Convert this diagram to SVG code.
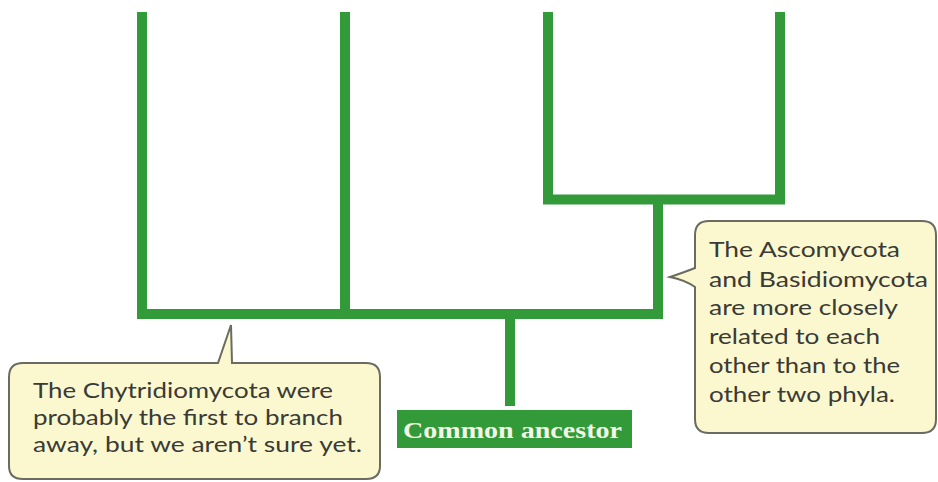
<svg xmlns="http://www.w3.org/2000/svg" width="938" height="482" viewBox="0 0 938 482">
<style>
.br{stroke:#339a3a;stroke-width:10;fill:none;stroke-linecap:butt}
.call{fill:#fbf8cf;stroke:#6b6b62;stroke-width:2}
.ct{font-family:Lato,"Open Sans","Liberation Sans",sans-serif;font-size:22px;fill:#3a3a36}
.ca{font-family:"Liberation Serif",serif;font-weight:bold;font-size:24px;fill:#f2f6e4}
</style>
<rect width="938" height="482" fill="#ffffff"/>
<g id="connectors">
<path class="br" d="M142 12 V314 M345 12 V314 M137 314 H663 M548 12 V199.5 M780 12 V199.5 M543 199.5 H785 M658 199.5 V314 M510 314 V406"/>
</g>
<g id="common-ancestor">
<rect x="397" y="410" width="235" height="38" fill="#339a3a"/>
<text class="ca" x="403" y="438" textLength="219" lengthAdjust="spacingAndGlyphs">Common ancestor</text>
</g>
<g id="callout-chytrid">
<path class="call" d="M23 363 H218 L231 325 L232 363 H366 Q380 363 380 377 V466 Q380 479 366 479 H23 Q9 479 9 466 V377 Q9 363 23 363 Z"/>
<text class="ct" x="33" y="398" textLength="300" lengthAdjust="spacingAndGlyphs">The Chytridiomycota were</text>
<text class="ct" x="33" y="425" textLength="310" lengthAdjust="spacingAndGlyphs">probably the first to branch</text>
<text class="ct" x="33" y="452" textLength="329" lengthAdjust="spacingAndGlyphs">away, but we aren’t sure yet.</text>
</g>
<g id="callout-asco">
<path class="call" d="M709 221 H922 Q936 221 936 235 V419 Q936 433 922 433 H709 Q695 433 695 419 V287 Q685 280 670 277 Q685 272 695 268 V235 Q695 221 709 221 Z"/>
<text class="ct" x="709" y="257" textLength="191" lengthAdjust="spacingAndGlyphs">The Ascomycota</text>
<text class="ct" x="709" y="287" textLength="219" lengthAdjust="spacingAndGlyphs">and Basidiomycota</text>
<text class="ct" x="709" y="315" textLength="189" lengthAdjust="spacingAndGlyphs">are more closely</text>
<text class="ct" x="709" y="344" textLength="171" lengthAdjust="spacingAndGlyphs">related to each</text>
<text class="ct" x="709" y="373" textLength="191" lengthAdjust="spacingAndGlyphs">other than to the</text>
<text class="ct" x="709" y="402" textLength="186" lengthAdjust="spacingAndGlyphs">other two phyla.</text>
</g>
</svg>
